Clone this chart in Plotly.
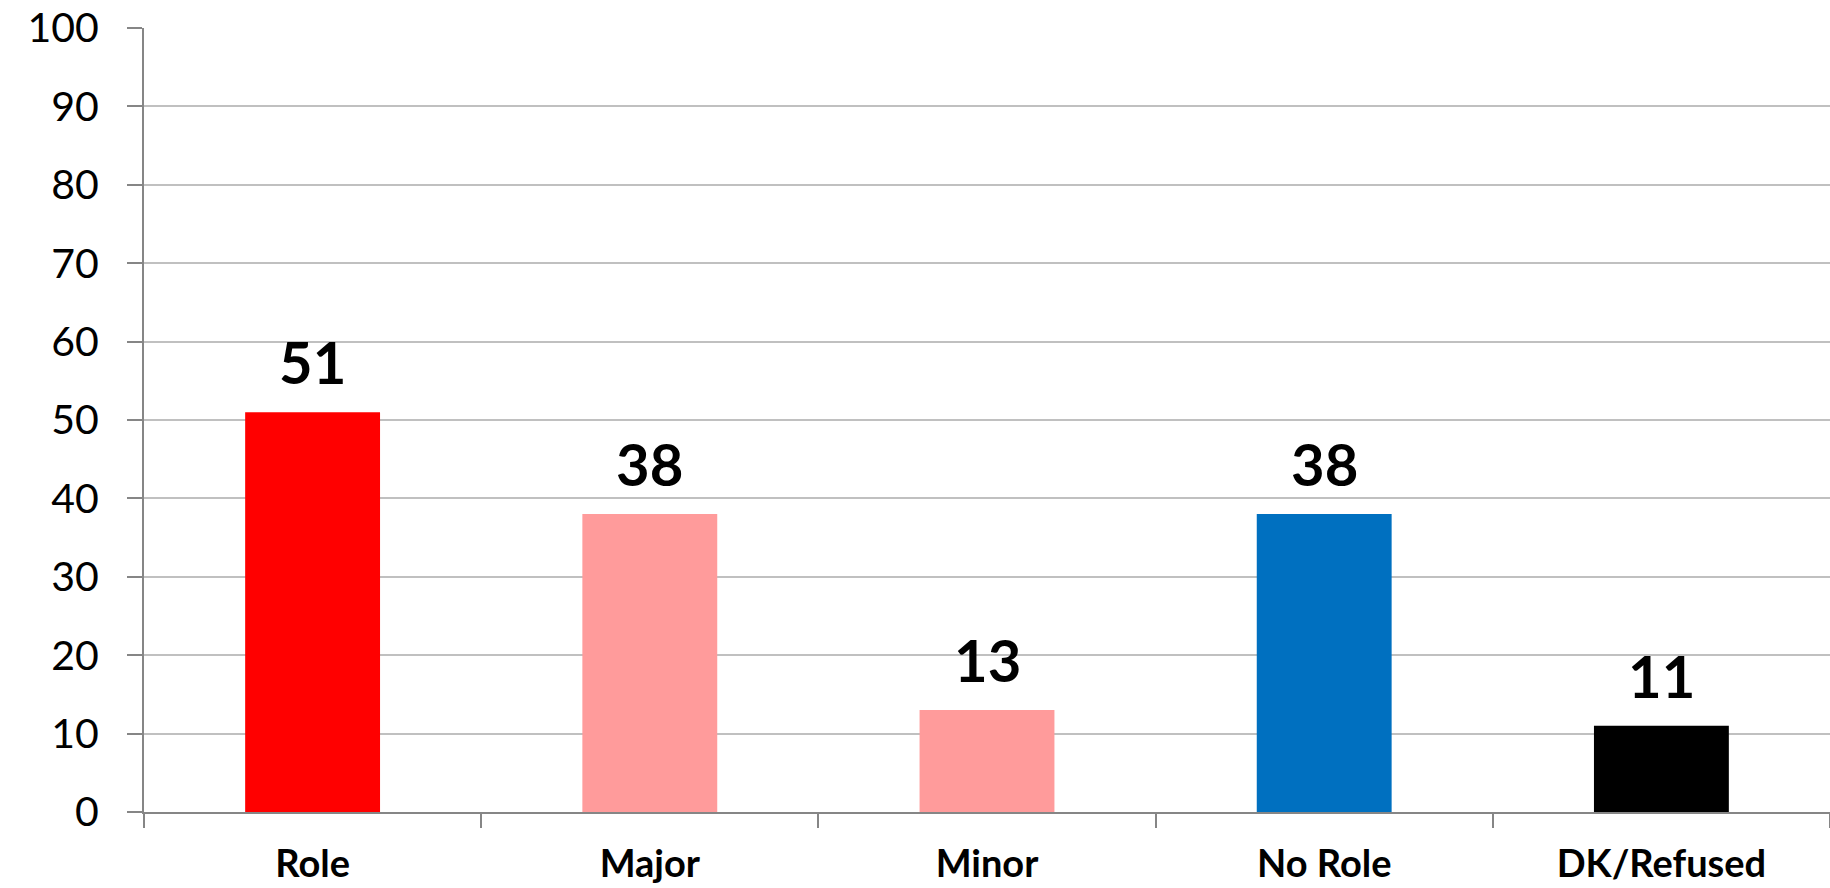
import plotly.graph_objects as go

categories = ["Role", "Major", "Minor", "No Role", "DK/Refused"]
values = [51, 38, 13, 38, 11]
colors = ["#FF0000", "#FF9B9B", "#FF9B9B", "#0070C0", "#000000"]
y_ticks = [0, 10, 20, 30, 40, 50, 60, 70, 80, 90, 100]

FONT = "Lato"

fig = go.Figure()
fig.add_trace(go.Bar(
    x=categories,
    y=values,
    marker=dict(color=colors, line=dict(width=0)),
    width=0.4,
    hoverinfo="x+y",
))

for c, v in zip(categories, values):
    fig.add_annotation(
        x=c, y=v, text=f"<b>{v}</b>", showarrow=False,
        yanchor="bottom", yshift=14,
        font=dict(family=FONT, size=58, color="#000000"),
    )

fig.update_layout(
    width=1830, height=888,
    margin=dict(l=144, r=0, t=28, b=76),
    paper_bgcolor="white", plot_bgcolor="white",
    showlegend=False,
    bargap=0.6,
    font=dict(family=FONT, color="#000000"),
)

fig.update_yaxes(
    range=[0, 100],
    tickvals=y_ticks,
    ticktext=[str(t) for t in y_ticks],
    showgrid=True, gridcolor="#C0C0C0", gridwidth=1.5,
    showline=True, linecolor="#868686", linewidth=2,
    ticks="outside", ticklen=15, tickcolor="#868686", tickwidth=2,
    tickfont=dict(family=FONT, size=41, color="#000000"),
    ticklabelstandoff=20,
    zeroline=False,
    automargin=False,
    fixedrange=True,
)

fig.update_xaxes(
    showline=True, linecolor="#868686", linewidth=2,
    ticks="outside", ticklen=14, tickcolor="#868686", tickwidth=2,
    tickson="boundaries",
    tickfont=dict(family=FONT, size=38, color="#000000"),
    tickvals=categories,
    ticktext=[f"<b>{c}</b>" for c in categories],
    ticklabelstandoff=17,
    showgrid=False,
    automargin=False,
    fixedrange=True,
)

fig.write_html(
    "out.html",
    config={"displayModeBar": False},
    post_script="document.body.style.margin='0';document.body.style.overflow='hidden';",
)
